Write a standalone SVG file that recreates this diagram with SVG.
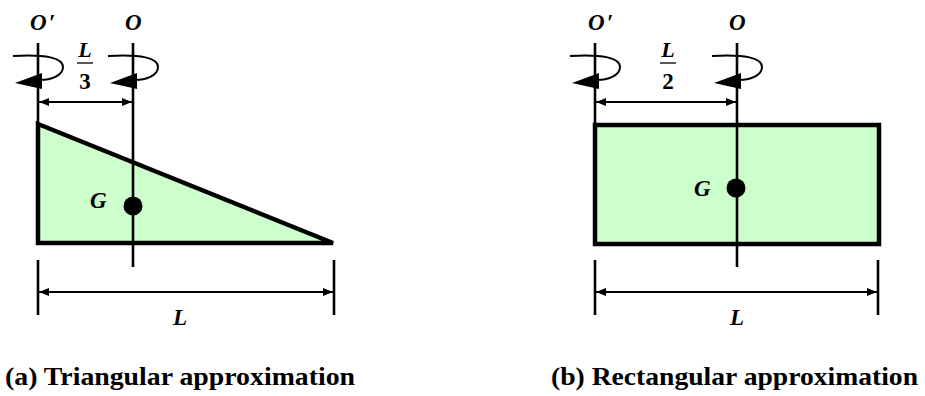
<svg xmlns="http://www.w3.org/2000/svg" width="925" height="396" viewBox="0 0 925 396">
<style>
.shape{fill:#CCFFCC;stroke:#000;stroke-width:4.5}
.axis{stroke:#000;stroke-width:2.6;fill:none}
.dim{stroke:#000;stroke-width:2.2;fill:none}
.rot{stroke:#000;stroke-width:2;fill:none}
text{font-family:"Liberation Serif",Tinos,"Times New Roman",serif;font-weight:700;fill:#000}
.it{font-style:italic}
.s23{font-size:23px}
.s22{font-size:22px}
.s26{font-size:26px}
</style>
<defs>
<marker id="ah" viewBox="0 0 10 8" refX="10" refY="4" markerWidth="10" markerHeight="8" markerUnits="userSpaceOnUse" orient="auto-start-reverse">
<path d="M0,0 L10,4 L0,8 Z" fill="#000"/>
</marker>
<g id="rotsym">
<path class="rot" d="M-25,56 C8,54 25,58 25,67 C25,76 12,80 2,80"/>
<path d="M-23,83 L4,73 L4,89 Z" fill="#000"/>
</g>
</defs>

<g id="triangle">
<polygon class="shape" points="38,124 333,243 38,243"/>
</g>
<g id="rectangle">
<rect class="shape" x="595" y="125" width="284" height="119"/>
</g>

<g id="connectors">
<line class="axis" x1="38" y1="43" x2="38" y2="124"/>
<line class="axis" x1="133" y1="43" x2="133" y2="267"/>
<line class="axis" x1="595" y1="43" x2="595" y2="125"/>
<line class="axis" x1="737" y1="43" x2="737" y2="267"/>
<line class="dim" x1="39" y1="102" x2="132" y2="102" marker-start="url(#ah)" marker-end="url(#ah)"/>
<line class="dim" x1="596" y1="102" x2="736" y2="102" marker-start="url(#ah)" marker-end="url(#ah)"/>
<line class="axis" x1="38" y1="260" x2="38" y2="315"/>
<line class="axis" x1="334" y1="260" x2="334" y2="315"/>
<line class="dim" x1="39" y1="292" x2="333" y2="292" marker-start="url(#ah)" marker-end="url(#ah)"/>
<line class="axis" x1="595" y1="260" x2="595" y2="315"/>
<line class="axis" x1="878" y1="260" x2="878" y2="315"/>
<line class="dim" x1="596" y1="292" x2="877" y2="292" marker-start="url(#ah)" marker-end="url(#ah)"/>
</g>

<g id="rotation-O-prime-a"><use href="#rotsym" x="38" y="0"/></g>
<g id="rotation-O-a"><use href="#rotsym" x="133" y="0"/></g>
<g id="rotation-O-prime-b"><use href="#rotsym" x="595" y="0"/></g>
<g id="rotation-O-b"><use href="#rotsym" x="737" y="0"/></g>

<g id="G-a">
<circle cx="133" cy="206" r="9.5" fill="#000"/>
<text class="it s23" x="90" y="208">G</text>
</g>
<g id="G-b">
<circle cx="736" cy="188" r="9.5" fill="#000"/>
<text class="it s23" x="694" y="196">G</text>
</g>

<g id="labels">
<text class="it s23" x="30" y="30">O<tspan dx="2">′</tspan></text>
<text class="it s23" x="125" y="30">O</text>
<text class="it s23" x="588" y="30">O<tspan dx="2">′</tspan></text>
<text class="it s23" x="729" y="30">O</text>
<text class="it s22" x="85" y="57" text-anchor="middle">L</text>
<text class="it s22" x="668" y="57" text-anchor="middle">L</text>
<text class="it s23" x="180" y="325" text-anchor="middle">L</text>
<text class="it s23" x="737" y="325" text-anchor="middle">L</text>
<line x1="77" y1="63" x2="93" y2="63" stroke="#000" stroke-width="1.3"/>
<text class="s23" x="85" y="89" text-anchor="middle">3</text>
<line x1="660" y1="63" x2="676" y2="63" stroke="#000" stroke-width="1.3"/>
<text class="s23" x="668" y="89" text-anchor="middle">2</text>
</g>

<g id="captions">
<text class="s26" x="5" y="385" textLength="350" lengthAdjust="spacingAndGlyphs">(a) Triangular approximation</text>
<text class="s26" x="551" y="385" textLength="367" lengthAdjust="spacingAndGlyphs">(b) Rectangular approximation</text>
</g>
</svg>
